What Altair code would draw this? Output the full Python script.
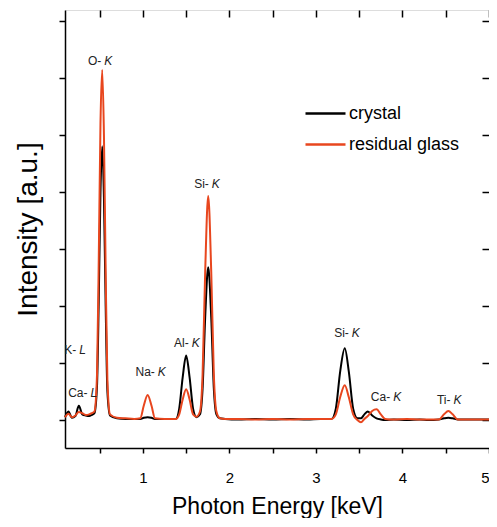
import altair as alt
import pandas as pd

# ---- data ----
energy = [0.10, 0.14, 0.18, 0.22, 0.26, 0.30, 0.34, 0.38, 0.41, 0.44, 0.47, 0.49, 0.51, 0.53,
          0.55, 0.57, 0.59, 0.62, 0.70, 0.80, 0.90, 0.97, 1.01, 1.055, 1.10, 1.14, 1.25, 1.38,
          1.42, 1.46, 1.50, 1.54, 1.58, 1.62, 1.66, 1.69, 1.72, 1.755, 1.79, 1.82, 1.85, 1.89,
          1.95, 2.10, 2.30, 2.50, 2.70, 2.90, 3.05, 3.18, 3.23, 3.28, 3.333, 3.38, 3.43, 3.48,
          3.52, 3.56, 3.60, 3.65, 3.70, 3.75, 3.80, 3.90, 4.05, 4.20, 4.30, 4.42, 4.48, 4.53,
          4.58, 4.64, 4.75, 4.90, 5.00]
crystal = [0.05, 0.15, 0.04, 0.07, 0.25, 0.10, 0.08, 0.07, 0.09, 0.12, 0.6, 2.1, 4.0, 4.8,
           3.9, 2.0, 0.5, 0.08, 0.03, 0.02, 0.02, 0.02, 0.04, 0.05, 0.04, 0.02, 0.02, 0.02,
           0.2, 0.75, 1.13, 0.75, 0.2, 0.05, 0.1, 0.55, 1.8, 2.68, 1.8, 0.55, 0.1, 0.03,
           0.02, 0.01, 0.02, 0.01, 0.02, 0.01, 0.02, 0.02, 0.2, 0.85, 1.26, 0.85, 0.2, 0.03,
           0.03, 0.10, 0.15, 0.08, 0.03, 0.01, 0.0, 0.01, 0.0, 0.01, 0.0, 0.01, 0.03, 0.04,
           0.03, 0.01, 0.01, 0.01, 0.01]
glass = [0.05, 0.11, 0.05, 0.08, 0.14, 0.12, 0.09, 0.10, 0.12, 0.15, 0.8, 2.8, 5.2, 6.14,
         5.0, 2.6, 0.7, 0.1, 0.04, 0.03, 0.02, 0.03, 0.25, 0.44, 0.25, 0.03, 0.02, 0.02,
         0.1, 0.36, 0.54, 0.36, 0.1, 0.06, 0.15, 0.8, 2.6, 3.93, 2.6, 0.8, 0.15, 0.03,
         0.02, 0.02, 0.01, 0.02, 0.01, 0.02, 0.02, 0.02, 0.1, 0.4, 0.61, 0.4, 0.1, 0.0,
         -0.04, 0.02, 0.07, 0.16, 0.19, 0.10, 0.02, 0.01, 0.02, 0.01, 0.01, 0.01, 0.10, 0.16,
         0.10, 0.01, 0.01, 0.01, 0.01]
series_names = ["crystal", "residual glass"]
series_colors = ["#000000", "#E8461E"]

label_prefix = ["K-", "Ca-", "O-", "Na-", "Al-", "Si-", "Si-", "Ca-", "Ti-"]
label_suffix = ["L", "L", "K", "K", "K", "K", "K", "K", "K"]
label_energy = [0.23, 0.36, 0.52, 1.138, 1.529, 1.762, 3.38, 3.858, 4.555]
label_intensity = [1.22, 0.47, 6.3, 0.84, 1.35, 4.14, 1.53, 0.41, 0.35]

x_ticks = [0.5, 1.0, 1.5, 2.0, 2.5, 3.0, 3.5, 4.0, 4.5, 5.0]
y_ticks = [0, 1, 2, 3, 4, 5, 6, 7]

# ---- tables ----
rows = []
for name, vals in zip(series_names, [crystal, glass]):
    for e, v in zip(energy, vals):
        rows.append({"energy": e, "intensity": v, "series": name})
spec = pd.DataFrame(rows)
labels = pd.DataFrame({"prefix": label_prefix, "suffix": label_suffix,
                       "energy": label_energy, "intensity": label_intensity})

FONT = "Liberation Sans"
xscale = alt.Scale(domain=[0.1, 5.0], nice=False, zero=False)
yscale = alt.Scale(domain=[-0.49, 7.19], nice=False, zero=False)

lines = alt.Chart(spec).mark_line(strokeWidth=2, interpolate="monotone").encode(
    x=alt.X("energy:Q", scale=xscale,
            axis=alt.Axis(orient="bottom", values=x_ticks, title="Photon Energy [keV]",
                          labelExpr="datum.value % 1 == 0 ? format(datum.value, 'd') : ''",
                          tickSize=5, tickWidth=1.5, tickColor="black",
                          domainColor="black", domainWidth=1.5,
                          labelFont=FONT, labelFontSize=15, labelColor="black",
                          labelPadding=17, labelFlush=True,
                          titleFont=FONT, titleFontSize=23, titleFontWeight="normal",
                          titleColor="black", titlePadding=10, grid=False)),
    y=alt.Y("intensity:Q", scale=yscale,
            axis=alt.Axis(orient="left", values=y_ticks, labels=False, title="Intensity [a.u.]",
                          tickSize=6, tickWidth=1.5, tickColor="black",
                          domainColor="black", domainWidth=1.5,
                          titleFont=FONT, titleFontSize=28, titleFontWeight="normal",
                          titleColor="black", titlePadding=16, grid=False)),
    color=alt.Color("series:N", scale=alt.Scale(domain=series_names, range=series_colors),
                    legend=alt.Legend(title=None, orient="none", legendX=239, legendY=82,
                                      symbolType="stroke", symbolSize=1600,
                                      symbolStrokeWidth=2.5, labelFont=FONT,
                                      labelFontSize=18, labelColor="black",
                                      labelOffset=2, rowPadding=-5)),
    order=alt.Order("series:N", sort="ascending"),
)

pre = alt.Chart(labels).mark_text(align="right", baseline="middle", font=FONT,
                                  fontSize=12, color="#222222").encode(
    x=alt.X("energy:Q", scale=xscale,
            axis=alt.Axis(orient="top", values=x_ticks, labels=False, title=None,
                          tickSize=7, tickWidth=1.5, tickColor="black", domain=False,
                          offset=-7, grid=False)),
    y=alt.Y("intensity:Q", scale=yscale,
            axis=alt.Axis(orient="right", values=y_ticks, labels=False, title=None,
                          tickSize=7, tickWidth=1.5, tickColor="black", domain=False,
                          offset=-7, grid=False)),
    text="prefix:N",
)

suf = alt.Chart(labels).mark_text(align="left", baseline="middle", font=FONT,
                                  fontSize=12, fontStyle="italic", color="#222222", dx=3).encode(
    x=alt.X("energy:Q", scale=xscale, axis=None),
    y=alt.Y("intensity:Q", scale=yscale, axis=None),
    text="suffix:N",
)

chart = alt.layer(lines, pre, suf).resolve_axis(x="independent", y="independent").properties(
    width=424, height=438,
    autosize=alt.AutoSizeParams(type="none"),
    padding={"left": 57, "top": 2, "right": 0, "bottom": 70},
).configure_view(stroke="black", strokeWidth=1.5).configure(background="white")

chart.save("out.html", embed_options={"renderer": "svg", "actions": False})
